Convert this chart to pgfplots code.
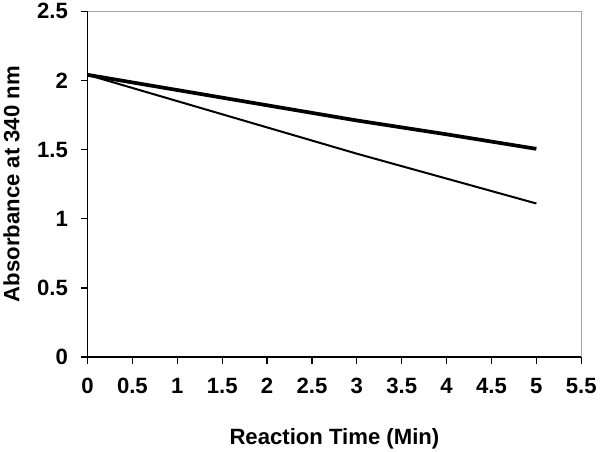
\documentclass[border=0pt]{standalone}
\usepackage{fontspec}
\setmainfont{Liberation Sans}
\usepackage{pgfplots}
\pgfplotsset{compat=1.18}
\begin{document}
\begin{tikzpicture}
\begin{axis}[
  scale only axis,
  width=491pt, height=344pt,
  xmin=0, xmax=5.5, ymin=0, ymax=2.5,
  axis lines*=left,
  axis line style={line width=1.2pt, black},
  xtick={0,0.5,...,5.5},
  ytick={0,0.5,...,2.5},
  xticklabels={0,0.5,1,1.5,2,2.5,3,3.5,4,4.5,5,5.5},
  yticklabels={0,0.5,1,1.5,2,2.5},
  tick style={line width=1.2pt, black},
  tick align=outside,
  major tick length=7pt,
  /pgf/number format/assume math mode=true,
  ticklabel style={font=\bfseries\fontsize{22}{26}\selectfont},
  xticklabel style={text height=12pt, text depth=0pt, yshift=-14pt},
  yticklabel style={xshift=-9pt},
  xlabel={Reaction Time (Min)},
  ylabel={Absorbance at 340 nm},
  label style={font=\bfseries\fontsize{22}{26}\selectfont},
  xlabel style={at={(rel axis cs:0.5,0)}, anchor=north, yshift=-67pt},
  ylabel style={at={(rel axis cs:0,0.5)}, anchor=south, rotate=0, yshift=64pt},
  clip=false,
  after end axis/.code={
    \draw[gray!70, line width=0.8pt] (rel axis cs:0,1) -- (rel axis cs:1,1) -- (rel axis cs:1,0);
  },
]
\addplot[black, line width=3.7pt] coordinates {(0,2.04) (1,1.93) (2,1.82) (3,1.71) (4,1.61) (5,1.505)};
\addplot[black, line width=2pt] coordinates {(0,2.04) (1,1.85) (2,1.66) (3,1.47) (4,1.29) (5,1.11)};
\end{axis}
\end{tikzpicture}
\end{document}
